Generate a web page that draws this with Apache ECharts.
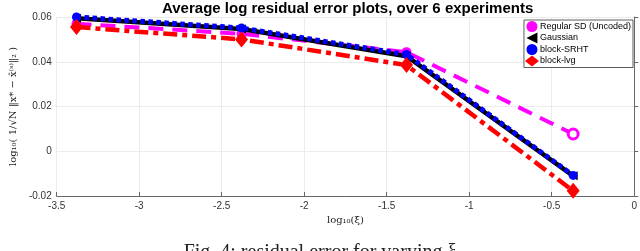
<!DOCTYPE html>
<html><head><meta charset="utf-8">
<script src="https://cdn.jsdelivr.net/npm/echarts@6/dist/echarts.min.js"></script>
<style>html,body{margin:0;padding:0;background:#fff}#c{width:640px;height:251px}</style>
</head><body><div id="c"></div>
<script>
var xVals = [-3.38, -2.38, -1.38, -0.37];
var uncoded = [0.057, 0.0525, 0.0443, 0.0077];
var gaussian = [0.0594, 0.0546, 0.0425, -0.011];
var srht = [0.0600, 0.0551, 0.0432, -0.0108];
var lvg = [0.0555, 0.0500, 0.0385, -0.0177];
var xTicks = ['-3.5','-3','-2.5','-2','-1.5','-1','-0.5','0'];
var yTicks = ['-0.02','0','0.02','0.04','0.06'];
var names = ['Regular SD (Uncoded)','Gaussian','block-SRHT','block-lvg'];

function pts(arr){ return arr.map(function(v,i){ return [xVals[i], v]; }); }
var chart = echarts.init(document.getElementById('c'));
var sans = 'Liberation Sans, Arial, sans-serif';
var magData = pts(uncoded);
magData[3] = {value: magData[3], itemStyle:{color:'#fff', borderColor:'#ff00ff', borderWidth:3}};
chart.setOption({
  animation:false,
  title:{text:'Average log residual error plots, over 6 experiments', left:157, top:-4,
    textStyle:{fontFamily:sans, fontSize:15, fontWeight:'bold', color:'#000'}},
  grid:{left:48, right:4, top:17, bottom:55},
  legend:{orient:'vertical', right:7, top:20, itemGap:0.5, itemWidth:14, itemHeight:11,
    backgroundColor:'#fff', borderColor:'#333', borderWidth:0.8, padding:[1,2,1,1],
    textStyle:{fontFamily:sans, fontSize:9, color:'#000', padding:[0,0,0,-4]},
    data:names.map(function(n,i){ return {name:n, icon:['circle','path://M0,5L10,0L10,10Z','circle','diamond'][i]}; })},
  xAxis:{type:'value', min:-3.5, max:0, interval:0.5,
    name:'log\u2081\u2080(\u03be)', nameLocation:'middle', nameGap:17,
    nameTextStyle:{fontFamily:'DejaVu Serif, serif', fontSize:10, color:'#222'},
    axisLine:{show:true, onZero:false, lineStyle:{color:'#666'}},
    axisTick:{show:true, inside:true, length:4, lineStyle:{color:'#666'}},
    axisLabel:{fontFamily:sans, fontSize:10, color:'#333', margin:5,
      formatter:function(v){ return xTicks[Math.round((v+3.5)/0.5)]; }},
    splitLine:{show:true, lineStyle:{color:'#ececec'}}},
  yAxis:{type:'value', min:-0.02, max:0.06, interval:0.02,
    name:'log\u2081\u2080( 1/\u221aN \u2016x* \u2212 x\u0302\u207d\u02e2\u207e\u2016\u2082 )', nameLocation:'middle', nameGap:38,
    nameTextStyle:{fontFamily:'DejaVu Serif, serif', fontSize:10, color:'#222'},
    axisLine:{show:true, lineStyle:{color:'#666'}},
    axisTick:{show:true, inside:true, length:4, lineStyle:{color:'#666'}},
    axisLabel:{fontFamily:sans, fontSize:10, color:'#333', margin:5,
      formatter:function(v){ return yTicks[Math.round((v+0.02)/0.02)]; }},
    splitLine:{show:true, lineStyle:{color:'#ececec'}}},
  series:[
    {name:names[0], type:'line', data:magData, symbol:'circle', symbolSize:10,
      itemStyle:{color:'#ff00ff'}, lineStyle:{color:'#ff00ff', width:4, type:[15,9]}, z:2},
    {name:names[1], type:'line', data:pts(gaussian), symbol:'path://M0,5L10,0L10,10Z', symbolSize:9,
      itemStyle:{color:'#000'}, lineStyle:{color:'#000', width:4.5}, z:3},
    {name:names[2], type:'line', data:pts(srht), symbol:'circle', symbolSize:9,
      itemStyle:{color:'#0000ff'}, lineStyle:{color:'#0000ff', width:5, type:[4.5,3.5], cap:'butt'}, z:4},
    {name:names[3], type:'line', data:pts(lvg), symbol:'diamond', symbolSize:[13,16],
      itemStyle:{color:'#ff0000'}, lineStyle:{color:'#ff0000', width:4.5, type:[14,5,5,5]}, z:5}
  ],
  graphic:[{type:'text', left:'center', top:243,
    style:{text:'Fig. 4: residual error for varying \u03be', font:'20px "Liberation Serif", "DejaVu Serif", serif', fill:'#222'}}]
});
</script></body></html>
